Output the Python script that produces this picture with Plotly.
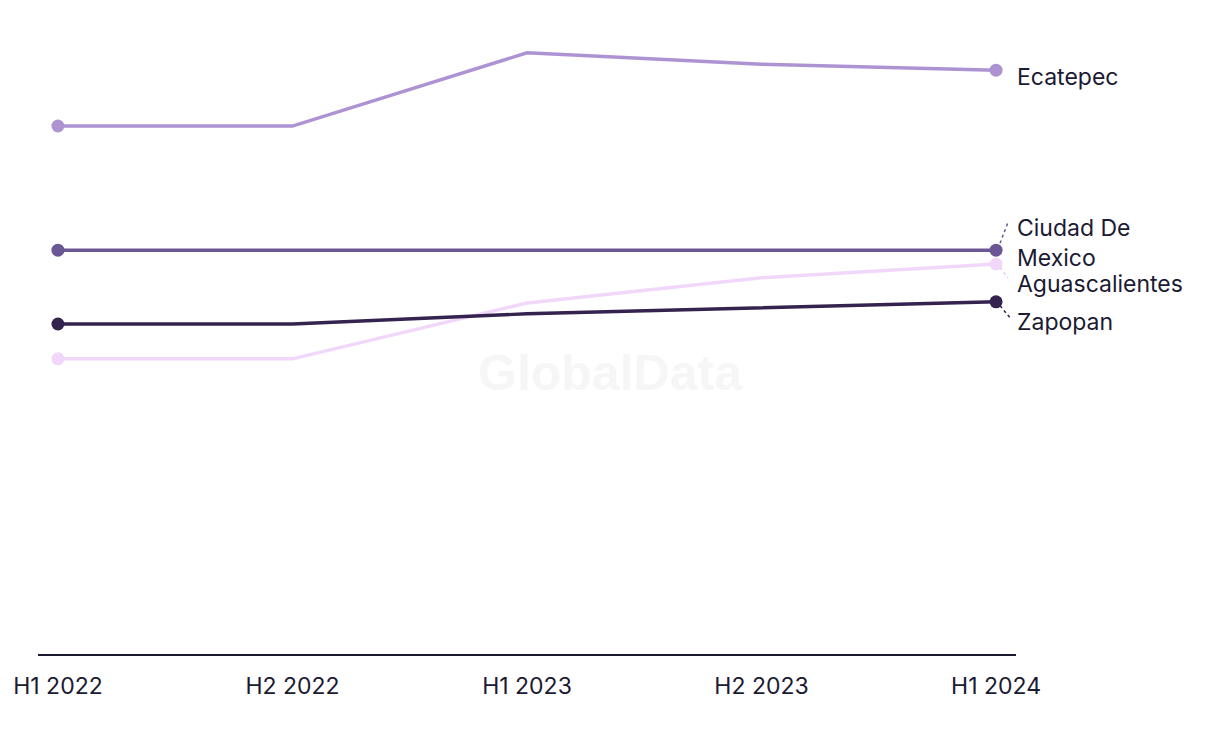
import plotly.graph_objects as go

periods = ["H1 2022", "H2 2022", "H1 2023", "H2 2023", "H1 2024"]

ecatepec = [88.0, 88.0, 100.2, 98.3, 97.3]
ciudad = [67.3, 67.3, 67.3, 67.3, 67.3]
aguascalientes = [49.2, 49.2, 58.5, 62.7, 65.0]
zapopan = [55.0, 55.0, 56.7, 57.7, 58.7]

series = [
    # name, values, colour, label y-shift (px), leader (dx, dy) in px
    ("Ecatepec", ecatepec, "#ae93d3", -7, None),
    ("Ciudad De<br>Mexico", ciudad, "#6b5795", 7, (12, 28)),
    ("Aguascalientes", aguascalientes, "#f1d8fb", -20, (12, -14)),
    ("Zapopan", zapopan, "#34234f", -20, (14, -16)),
]

text_col = "#1b1a33"
x = list(range(len(periods)))

fig = go.Figure()
for name, vals, col, shift, leader in series:
    fig.add_trace(go.Scatter(
        x=x, y=vals, mode="lines", line=dict(color=col, width=3.4),
        showlegend=False, hoverinfo="skip"))
    fig.add_trace(go.Scatter(
        x=[x[0], x[-1]], y=[vals[0], vals[-1]], mode="markers",
        marker=dict(color=col, size=13), showlegend=False, hoverinfo="skip"))
    fig.add_annotation(x=x[-1], y=vals[-1], text=name, showarrow=False,
                       xanchor="left", yanchor="middle", align="left",
                       xshift=19, yshift=shift,
                       font=dict(family="Inter", size=23, color=text_col))
    if leader:
        fig.add_shape(type="line", xref="x", yref="y",
                      xsizemode="pixel", ysizemode="pixel",
                      xanchor=x[-1], yanchor=vals[-1],
                      x0=4, y0=leader[1] * 0.25, x1=leader[0], y1=leader[1],
                      line=dict(color=col if col != "#f1d8fb" else "#e6c8f5", width=1.5, dash="dot"))

fig.add_annotation(x=0.585, y=0.45, xref="paper", yref="paper", text="<b>GlobalData</b>",
                   showarrow=False, font=dict(family="Liberation Sans", size=50, color="#f6f6f6"))

fig.update_layout(
    width=1220, height=744,
    margin=dict(l=30, r=212, t=22, b=98, autoexpand=False),
    plot_bgcolor="white", paper_bgcolor="white",
    xaxis=dict(range=[-0.085, 4.085], tickmode="array", tickvals=x, ticktext=periods,
               showgrid=False, zeroline=False, showline=True, linecolor=text_col, linewidth=2,
               ticks="", ticklabelstandoff=10, automargin=False,
               tickfont=dict(family="Inter", size=23, color=text_col)),
    yaxis=dict(range=[0, 104], visible=False, showgrid=False, zeroline=False, automargin=False),
)

fig.write_html("out.html")
